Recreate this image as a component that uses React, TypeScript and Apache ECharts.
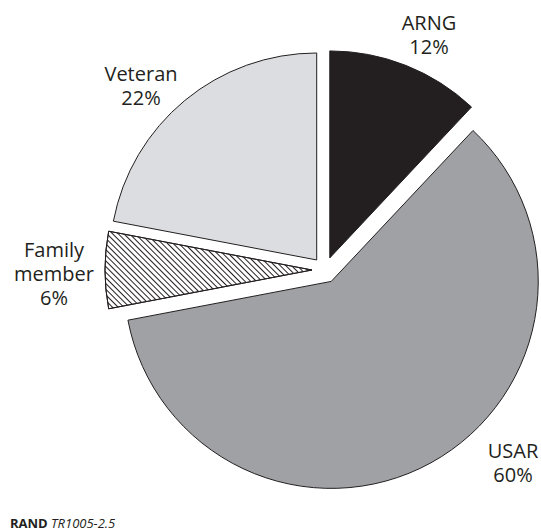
import React, { useEffect, useRef } from "react";
import * as echarts from "echarts";

const categories = ["ARNG", "USAR", "Family member", "Veteran"];
const labelLines = [["ARNG"], ["USAR"], ["Family", "member"], ["Veteran"]];
const values = [12, 60, 6, 22];
const colors = ["#231f20", "#a0a1a5", "#ffffff", "#dcdde0"];
const labelPos = [
  [429, 34],
  [513, 462],
  [54, 273],
  [141, 85],
];
const LINE_H = 24;

export default function App() {
  const ref = useRef<HTMLDivElement>(null);
  useEffect(() => {
    if (!ref.current) return;
    const chart = echarts.init(ref.current, undefined, { renderer: "svg" });
    const total = values.reduce((a, b) => a + b, 0);
    const data = categories.map((c, i) => {
      const item: any = {
        name: c,
        value: values[i],
        selected: true,
        itemStyle: { color: colors[i] },
      };
      if (i === 2) {
        item.itemStyle.decal = {
          symbol: "rect",
          symbolSize: 1,
          dashArrayX: [1, 0],
          dashArrayY: [1, 2.6],
          rotation: Math.PI / 4,
          color: "#231f20",
        };
      }
      return item;
    });
    const labels: any[] = [];
    categories.forEach((c, i) => {
      const lines = [...labelLines[i], Math.round((values[i] / total) * 100) + "%"];
      const y0 = labelPos[i][1] - ((lines.length - 1) * LINE_H) / 2;
      lines.forEach((t, k) => {
        labels.push({
          type: "text",
          x: labelPos[i][0],
          y: y0 + k * LINE_H,
          silent: true,
          style: {
            text: t,
            fill: "#231f20",
            fontFamily: "Open Sans",
            fontSize: 20,
            lineHeight: 20,
            align: "center",
            verticalAlign: "middle",
          },
        });
      });
    });
    chart.setOption({
      animation: false,
      backgroundColor: "#ffffff",
      aria: { enabled: false, decal: { show: true } },
      series: [
        {
          type: "pie",
          center: [325, 270],
          radius: 207,
          startAngle: 90,
          clockwise: true,
          selectedMode: "multiple",
          selectedOffset: 13,
          silent: true,
          itemStyle: { borderColor: "#231f20", borderWidth: 1 },
          label: { show: false },
          labelLine: { show: false },
          data,
        },
      ],
      graphic: [
        ...labels,
        {
          type: "text",
          x: 10,
          y: 523,
          style: {
            text: "{a|RAND} {b|TR1005-2.5}",
            verticalAlign: "middle",
            rich: {
              a: { fontFamily: "Open Sans", fontWeight: "bold", fontSize: 13, fill: "#231f20" },
              b: { fontFamily: "Open Sans", fontStyle: "italic", fontSize: 13, fill: "#231f20" },
            },
          },
        },
      ],
    });
    return () => chart.dispose();
  }, []);
  return (
    <div
      ref={ref}
      style={{ position: "fixed", left: 0, top: 0, width: 541, height: 531, background: "#fff" }}
    />
  );
}
